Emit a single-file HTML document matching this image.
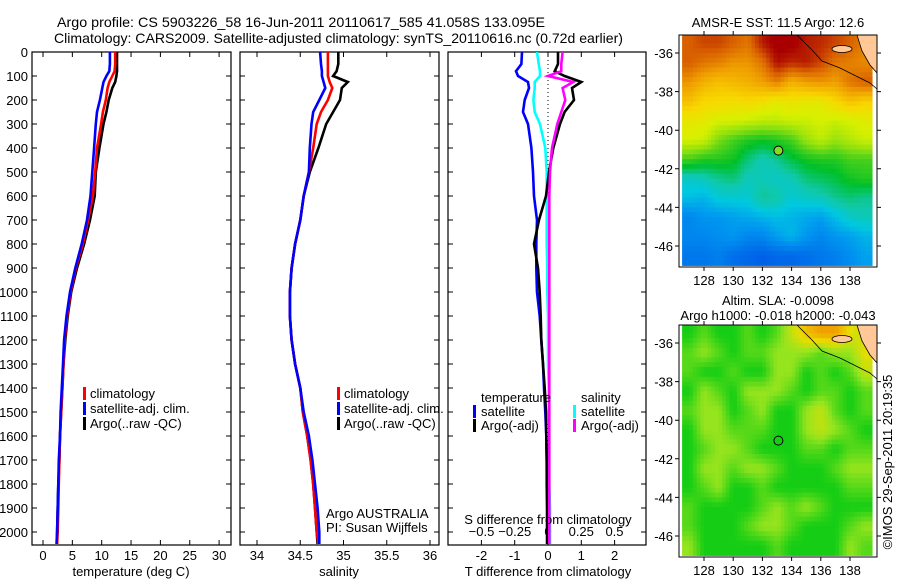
<!DOCTYPE html>
<html><head><meta charset="utf-8">
<style>
html,body{margin:0;padding:0;background:#fff;}
svg{display:block;font-family:"Liberation Sans",sans-serif;}
</style></head>
<body>
<svg id="fig" width="900" height="580" viewBox="0 0 900 580" xmlns="http://www.w3.org/2000/svg">
<defs>
<clipPath id="c1"><rect x="32" y="52" width="199" height="493"/></clipPath>
<clipPath id="c2"><rect x="240" y="52" width="199" height="493"/></clipPath>
<clipPath id="c3"><rect x="448" y="52" width="198" height="493"/></clipPath>
<clipPath id="cm1"><rect x="679" y="35" width="198" height="232"/></clipPath>
<clipPath id="cm2"><rect x="679" y="325" width="198" height="232"/></clipPath>
</defs>
<text x="57" y="27" font-size="14" textLength="488" lengthAdjust="spacingAndGlyphs">Argo profile: CS 5903226_58 16-Jun-2011 20110617_585 41.058S 133.095E</text>
<text x="54" y="43" font-size="14" textLength="569" lengthAdjust="spacingAndGlyphs">Climatology: CARS2009. Satellite-adjusted climatology: synTS_20110616.nc (0.72d earlier)</text>
<g id="g"></g>
</svg>
<script>
// ---- profile data ----
const depths = [0,50,80,100,125,150,200,250,300,400,500,600,700,800,900,1000,1100,1200,1300,1400,1500,1600,1700,1800,1900,2000,2050];
const tempClim = [12.3,12.3,12.2,11.8,11.3,11.0,10.7,10.2,9.9,9.2,8.9,8.5,7.7,6.8,5.6,4.7,4.1,3.7,3.5,3.3,3.1,2.9,2.8,2.7,2.6,2.5,2.4];
const tempSat = [11.4,11.4,11.3,10.8,10.3,10.1,9.7,9.2,9.0,8.7,8.4,8.1,7.5,6.6,5.5,4.6,4.0,3.6,3.4,3.2,3.0,2.9,2.7,2.6,2.5,2.4,2.3];
const tempArgo = [12.6,12.6,12.6,12.5,12.3,11.8,11.2,10.8,10.3,9.6,9.0,8.8,8.0,7.0,5.8,4.8,4.2,3.8,3.5,3.3,3.1,2.9,2.8,2.6,2.5,2.4,2.4];
const salClim = [34.82,34.82,34.82,34.82,34.84,34.87,34.82,34.74,34.69,34.65,34.6,34.54,34.5,34.44,34.4,34.38,34.38,34.4,34.44,34.5,34.53,34.58,34.62,34.65,34.67,34.69,34.71];
const salSat = [34.73,34.74,34.75,34.75,34.77,34.79,34.72,34.65,34.63,34.61,34.6,34.54,34.5,34.44,34.4,34.38,34.38,34.4,34.44,34.5,34.54,34.6,34.64,34.67,34.7,34.72,34.72];
const salArgo = [34.94,34.94,34.92,34.88,35.05,34.98,34.96,34.88,34.8,34.71,34.61,34.54,34.5,34.44,34.4,34.38,34.38,34.4,34.44,34.5,34.53,34.58,34.62,34.65,34.67,34.69,34.7];
const dTsat = [-0.78,-0.8,-0.96,-0.9,-0.6,-0.57,-0.7,-0.75,-0.6,-0.5,-0.45,-0.42,-0.33,-0.35,-0.35,-0.33,-0.25,-0.2,-0.15,-0.12,-0.08,-0.05,-0.04,-0.04,-0.03,-0.03,-0.03];
const dSsat = [-0.083,-0.07,-0.06,-0.06,-0.1,-0.1,-0.11,-0.1,-0.06,-0.02,-0.01,-0.01,-0.01,-0.01,-0.005,-0.005,0,0,0,0.005,0.005,0.01,0.01,0.01,0.015,0.015,0.015];
const dTargo = [0.3,0.3,0.2,0.5,1.0,0.72,0.78,0.5,0.36,0.16,0.03,-0.06,-0.27,-0.42,-0.3,-0.25,-0.22,-0.2,-0.15,-0.1,-0.06,-0.05,-0.04,-0.03,-0.02,-0.02,-0.02];
const dSargo = [0.11,0.1,0.1,0.0,0.19,0.11,0.13,0.1,0.07,0.03,0.015,0.01,0.01,0.01,0.01,0.01,0.01,0.01,0.01,0.01,0.01,0.01,0.01,0.01,0.01,0.01,0.01];
const depthTicks = [0,100,200,300,400,500,600,700,800,900,1000,1100,1200,1300,1400,1500,1600,1700,1800,1900,2000];
const tempTicks = [0,5,10,15,20,25,30];
const salTicks = [34,34.5,35,35.5,36];
const tTicks = [-2,-1,0,1,2];
const sTicks = [-0.5,-0.25,0,0.25,0.5];
// ---- map data (1-degree cells, rows lat -35..-47, cols lon 126.5..139.5) ----
const mapLons = [126.5,127.5,128.5,129.5,130.5,131.5,132.5,133.5,134.5,135.5,136.5,137.5,138.5];
const mapLats = [-35,-36,-37,-38,-39,-40,-41,-42,-43,-44,-45,-46];
const sst = [
[14.8,15.0,15.0,14.8,14.6,15.3,15.6,15.6,15.3,15.2,15.0,14.8,14.5],
[14.8,14.6,14.5,14.3,14.3,14.6,15.4,15.2,15.3,15.0,14.6,14.5,14.4],
[14.3,14.0,13.8,13.9,14.0,14.2,14.5,14.0,14.2,14.3,14.2,14.6,14.8],
[13.8,13.5,13.5,13.4,13.5,13.4,13.2,13.3,13.2,13.2,13.5,13.8,13.6],
[13.2,13.2,13.0,13.0,12.9,12.8,12.8,12.9,12.9,13.0,12.9,13.0,13.1],
[13.0,12.9,12.3,12.0,11.8,11.7,11.8,12.0,12.5,12.8,12.5,12.7,12.9],
[12.0,11.8,11.8,11.7,11.3,11.0,11.2,11.5,11.7,11.8,11.8,12.0,12.0],
[10.9,11.0,11.2,11.3,11.0,11.0,10.9,11.0,11.3,11.4,11.5,11.7,11.8],
[10.6,10.5,10.8,10.8,10.8,11.2,11.1,10.8,10.9,11.0,11.2,11.3,11.2],
[10.0,10.2,10.2,10.3,10.4,10.5,10.6,10.5,10.4,10.3,10.6,10.9,11.0],
[10.0,10.0,10.1,10.2,10.0,10.0,10.3,10.5,10.2,10.0,10.2,10.3,10.5],
[9.8,9.8,9.9,9.7,9.6,9.5,9.6,9.6,9.7,9.8,9.9,10.1,10.3]];
const sla = [
[0,0.05,0,0,0.05,0,0.05,0.15,0.25,0.3,0.3,0.2,0.15],
[0.05,0.1,0.05,0,0.05,0.05,0.1,0.1,0.1,0.05,0.1,0.1,0.2],
[0.05,0,0,0.05,0,0,0.1,0.1,0,0.05,0,0.05,0.15],
[0,0.1,0.05,0,0.1,0.1,0.1,0.05,0,0.05,0.05,0,0.05],
[0.05,0.1,0.1,0,0.05,0.1,0,0,0.1,0.15,0.05,0,0.05],
[0,0.1,0.1,0.05,0.05,0.05,0,0,0.1,0.15,0.1,0.05,0],
[0,0.05,0.1,0.1,0.05,0,0,0,0.05,0.05,0,0.05,0.05],
[0,0.1,0.1,0.05,0.1,0.1,0.05,0,0,0,0.05,0.1,0.1],
[0,0.05,0.1,0,0,0.05,0,0,0,0,0,0.05,0.05],
[0.05,0,0,0,0,0.05,0.1,0.05,0.1,0.05,0,0,0],
[0.05,0,0,0,0.05,0.1,0.1,0.05,0,0,0,0.05,0.1],
[0.1,0,0,0,0,0,0.05,0,0,0,0,0.1,0.05]];
const argoLon = 133.095, argoLat = -41.058;
const lonTicks = [128,130,132,134,136,138];
const latTicks = [-36,-38,-40,-42,-44,-46];

const NS = "http://www.w3.org/2000/svg";
const G = document.getElementById('g');
function mk(tag, attrs, parent, txt){
  const e = document.createElementNS(NS, tag);
  for (const k in attrs) e.setAttribute(k, attrs[k]);
  if (txt !== undefined) e.textContent = txt;
  (parent || G).appendChild(e);
  return e;
}
const yD = d => 52 + d * 0.24;
const PY0 = 52, PY1 = 545;

function panel(name, x0, x1, xs, ticks, fmt, labelY){
  const f = mk('rect', {x:x0, y:PY0, width:x1-x0, height:PY1-PY0, fill:'none', stroke:'#000', 'stroke-width':1.2});
  
  
  depthTicks.forEach(d => {
    const t = mk('path', {d:`M${x0} ${yD(d)}h5M${x1} ${yD(d)}h-5`, stroke:'#000'});
    
    
  });
  ticks.forEach(v => {
    const x = xs(v);
    const t = mk('path', {d:`M${x} ${PY0}v5M${x} ${PY1}v-5`, stroke:'#000'});
    
    
    if (labelY) {
      const l = mk('text', {x:x, y:labelY, 'font-size':13, 'text-anchor':'middle'}, G, fmt(v));
      
      
    }
  });
}
function line(xs, vals, color, name, clip, w){
  const pts = vals.map((v,i) => `${xs(v).toFixed(1)},${yD(depths[i]).toFixed(1)}`).join(' ');
  const p = mk('polyline', {points:pts, fill:'none', stroke:color, 'stroke-width':w||2.6, 'clip-path':`url(#${clip})`});
  
  
}
function text(x, y, s, name, size, anchor){
  const t = mk('text', {x:x, y:y, 'font-size':size||13, 'text-anchor':anchor||'start'}, G, s);
  
  
  return t;
}
function legendMark(x, y, color, name){
  const r = mk('rect', {x:x, y:y-11, width:3, height:13, fill:color});
  
  
}

depthTicks.forEach(d => { text(28, yD(d)+5, String(d), 'depth-tick-label', 13, 'end'); });

// panel 1: temperature
const xT = v => 43 + v * 5.87;
panel('temperature-panel', 32, 231, xT, tempTicks, v=>String(v), 560);
line(xT, tempArgo, '#000', 'temperature-argo-line', 'c1');
line(xT, tempClim, '#f00', 'temperature-climatology-line', 'c1');
line(xT, tempSat, '#00f', 'temperature-satellite-line', 'c1');
text(131, 576, 'temperature (deg C)', 'temperature-axis-title', 13, 'middle');
legendMark(83, 398, '#f00', 'legend-climatology-mark');
text(90, 398, 'climatology', 'legend-climatology');
legendMark(83, 413, '#00f', 'legend-satellite-mark');
text(90, 413, 'satellite-adj. clim.', 'legend-satellite');
legendMark(83, 428, '#000', 'legend-argo-mark');
text(90, 428, 'Argo(..raw -QC)', 'legend-argo');

// panel 2: salinity
const xS = v => 257 + (v - 34) * 86.5;
panel('salinity-panel', 240, 439, xS, salTicks, v=>String(v), 560);
line(xS, salArgo, '#000', 'salinity-argo-line', 'c2');
line(xS, salClim, '#f00', 'salinity-climatology-line', 'c2');
line(xS, salSat, '#00f', 'salinity-satellite-line', 'c2');
text(339, 576, 'salinity', 'salinity-axis-title', 13, 'middle');
legendMark(337, 398, '#f00', 'legend2-climatology-mark');
text(344, 398, 'climatology', 'legend2-climatology');
legendMark(337, 413, '#00f', 'legend2-satellite-mark');
text(344, 413, 'satellite-adj. clim.', 'legend2-satellite');
legendMark(337, 428, '#000', 'legend2-argo-mark');
text(344, 428, 'Argo(..raw -QC)', 'legend2-argo');
text(326, 518, 'Argo AUSTRALIA', 'argo-australia-label');
text(326, 532, 'PI: Susan Wijffels', 'pi-label');

// panel 3: differences
const xdT = v => 548 + v * 33.3;
const xdS = v => 548 + v * 133;
panel('difference-panel', 448, 646, xdT, tTicks, v=>String(v), 560);
sTicks.forEach(v => { text(xdS(v), 536, String(v).replace('-','\u2212'), 's-diff-tick-label', 13, 'middle'); });
const zl = mk('line', {x1:548, y1:56, x2:548, y2:540, stroke:'#000', 'stroke-dasharray':'1,3'});


line(xdT, dTsat, '#00f', 't-diff-satellite-line', 'c3');
line(xdS, dSsat, '#0ff', 's-diff-satellite-line', 'c3');
line(xdT, dTargo, '#000', 't-diff-argo-line', 'c3');
line(xdS, dSargo, '#f0f', 's-diff-argo-line', 'c3');
text(548, 524, 'S difference from climatology', 's-diff-axis-title', 13, 'middle');
text(548, 576, 'T difference from climatology', 't-diff-axis-title', 13, 'middle');
text(481, 402, 'temperature', 'legend3-temperature-header');
legendMark(473, 416, '#00f', 'legend3-t-satellite-mark');
text(481, 416, 'satellite', 'legend3-t-satellite');
legendMark(473, 430, '#000', 'legend3-t-argo-mark');
text(481, 430, 'Argo(-adj)', 'legend3-t-argo');
text(581, 402, 'salinity', 'legend3-salinity-header');
legendMark(573, 416, '#0ff', 'legend3-s-satellite-mark');
text(581, 416, 'satellite', 'legend3-s-satellite');
legendMark(573, 430, '#f0f', 'legend3-s-argo-mark');
text(581, 430, 'Argo(-adj)', 'legend3-s-argo');

// ---- maps ----
function interp(stops, v){
  if (v <= stops[0][0]) return stops[0][1];
  for (let i=1;i<stops.length;i++){
    if (v <= stops[i][0]){
      const a=stops[i-1], b=stops[i], t=(v-a[0])/(b[0]-a[0]);
      return a[1].map((c,k)=>Math.round(c+(b[1][k]-c)*t));
    }
  }
  return stops[stops.length-1][1];
}
const sstStops = [[9.5,[0,96,232]],[10.2,[0,150,240]],[10.7,[0,200,224]],[11.1,[16,200,170]],[11.6,[0,192,40]],[12.4,[140,224,16]],[13.0,[216,240,0]],[13.5,[248,216,0]],[14.2,[240,160,0]],[14.8,[216,96,0]],[15.5,[168,0,0]]];
const slaStops = [[-0.05,[0,176,64]],[0,[20,205,20]],[0.1,[150,228,30]],[0.2,[235,220,0]],[0.3,[240,160,0]]];

// display sampling of the cell grid (sub-cell shading for a smoother look)
function sample(grid, fr, fc){
  const R = grid.length, C = grid[0].length;
  const r = Math.max(0, Math.min(R-1, fr)), c = Math.max(0, Math.min(C-1, fc));
  const r0 = Math.floor(r), c0 = Math.floor(c);
  const r1 = Math.min(R-1, r0+1), c1 = Math.min(C-1, c0+1);
  const tr = r - r0, tc = c - c0;
  return grid[r0][c0]*(1-tr)*(1-tc) + grid[r0][c1]*(1-tr)*tc + grid[r1][c0]*tr*(1-tc) + grid[r1][c1]*tr*tc;
}

function drawMap(name, y0, grid, stops, clip){
  const lx = lon => 704 + (lon - 128) * 14.6;
  const ly = lat => y0 + 18 + (-36 - lat) * 19.3;
  const g = mk('g', {'clip-path':`url(#${clip})`});
  
  
  const SUB = 4;
  grid.forEach((row, r) => row.forEach((v, c) => {
    const x = lx(mapLons[c]), y = ly(mapLats[r]);
    const cg = mk('g', {}, g);
    
    
    for (let i=0;i<SUB;i++) for (let j=0;j<SUB;j++){
      const val = sample(grid, r - 0.5 + (i+0.5)/SUB, c - 0.5 + (j+0.5)/SUB);
      const col = interp(stops, val);
      mk('rect', {x:(x + j*14.6/SUB).toFixed(1), y:(y + i*19.3/SUB).toFixed(1), width:(14.6/SUB+0.6).toFixed(2), height:(19.3/SUB+0.6).toFixed(2), fill:`rgb(${col})`}, cg);
    }
  }));
  const land = mk('path', {d:`M857 ${y0}L877 ${y0}L877 ${y0+38}L870 ${y0+30}L862 ${y0+16}Z`, fill:'#ffc896', stroke:'#000', 'stroke-width':0.8}, g);
  
  
  const isl = mk('ellipse', {cx:842, cy:y0+14, rx:10, ry:3.5, fill:'#ffc896', stroke:'#000', 'stroke-width':0.8}, g);
  
  
  const coast = mk('polyline', {points:`797,${y0} 812,${y0+15} 822,${y0+26} 840,${y0+33} 858,${y0+42} 870,${y0+48} 877,${y0+54}`, fill:'none', stroke:'#000', 'stroke-width':0.8}, g);
  
  
  const fr = mk('rect', {x:679, y:y0, width:198, height:232, fill:'none', stroke:'#000', 'stroke-width':1});
  
  
  lonTicks.forEach(l => {
    const x = lx(l);
    const t = mk('path', {d:`M${x} ${y0}v-4M${x} ${y0+232}v4`, stroke:'#000'});
    
    
    text(x, y0+250, String(l), name + '-lon-label', 13, 'middle');
  });
  latTicks.forEach(l => {
    const y = ly(l);
    const t = mk('path', {d:`M679 ${y}h-4M877 ${y}h4`, stroke:'#000'});
    
    
    text(673, y+5, String(l), name + '-lat-label', 13, 'end');
  });
  return {lx, ly};
}
const m1 = drawMap('sst-map', 35, sst, sstStops, 'cm1');
const d1 = mk('circle', {cx:m1.lx(argoLon), cy:m1.ly(argoLat), r:4.5, fill:'rgb(128,224,32)', stroke:'#000', 'stroke-width':1});


const m2 = drawMap('sla-map', 325, sla, slaStops, 'cm2');
const d2 = mk('circle', {cx:m2.lx(argoLon), cy:m2.ly(argoLat), r:4.5, fill:'none', stroke:'#000', 'stroke-width':1});


text(778, 27, 'AMSR-E SST: 11.5 Argo: 12.6', 'sst-map-title', 13, 'middle');
text(778, 305, 'Altim. SLA: -0.0098', 'sla-map-title', 13, 'middle');
text(778, 320, 'Argo h1000: -0.018 h2000: -0.043', 'sla-map-subtitle', 13, 'middle');
const stamp = text(0, 0, '\u00A9IMOS 29-Sep-2011 20:19:35', 'timestamp', 13, 'middle');
stamp.setAttribute('transform', 'translate(892,462) rotate(-90)');
</script>
</body></html>
